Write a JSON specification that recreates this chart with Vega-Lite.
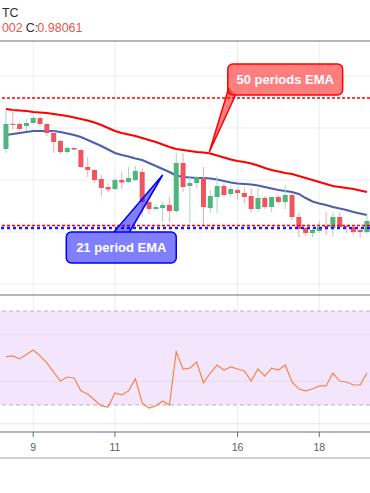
{
"$schema":"https://vega.github.io/schema/vega-lite/v6.json",
"width":370,"height":493,"padding":0,"autosize":{"type":"none"},
"config":{"view":{"stroke":null},"font":"Liberation Sans"},
"datasets":{
"candles":[
{"i":0,"o":0.9883,"h":0.9922,"l":0.9879,"c":0.9908},
{"i":1,"o":0.9908,"h":0.9922,"l":0.9902,"c":0.9907},
{"i":2,"o":0.9908,"h":0.9910,"l":0.9901,"c":0.9903},
{"i":3,"o":0.9906,"h":0.9913,"l":0.9901,"c":0.9909},
{"i":4,"o":0.9909,"h":0.9916,"l":0.9908,"c":0.9914},
{"i":5,"o":0.9914,"h":0.9916,"l":0.9905,"c":0.9908},
{"i":6,"o":0.9908,"h":0.9909,"l":0.9896,"c":0.9899},
{"i":7,"o":0.9899,"h":0.9901,"l":0.9879,"c":0.9890},
{"i":8,"o":0.9891,"h":0.9892,"l":0.9878,"c":0.9880},
{"i":9,"o":0.9880,"h":0.9886,"l":0.9878,"c":0.9884},
{"i":10,"o":0.9884,"h":0.9885,"l":0.9882,"c":0.98825},
{"i":11,"o":0.9882,"h":0.9883,"l":0.9864,"c":0.9865},
{"i":12,"o":0.9865,"h":0.9875,"l":0.9855,"c":0.9862},
{"i":13,"o":0.9862,"h":0.9863,"l":0.9849,"c":0.9852},
{"i":14,"o":0.9853,"h":0.9857,"l":0.9835,"c":0.9844},
{"i":15,"o":0.9845,"h":0.9849,"l":0.9840,"c":0.98425},
{"i":16,"o":0.9843,"h":0.9854,"l":0.9842,"c":0.9852},
{"i":17,"o":0.9852,"h":0.9860,"l":0.9843,"c":0.98495},
{"i":18,"o":0.9850,"h":0.9865,"l":0.9849,"c":0.9854},
{"i":19,"o":0.9852,"h":0.9866,"l":0.9851,"c":0.9861},
{"i":20,"o":0.9860,"h":0.9864,"l":0.9815,"c":0.9830},
{"i":21,"o":0.9830,"h":0.9833,"l":0.9818,"c":0.9823},
{"i":22,"o":0.9823,"h":0.9827,"l":0.9822,"c":0.9825},
{"i":23,"o":0.9824,"h":0.9830,"l":0.9810,"c":0.9827},
{"i":24,"o":0.9827,"h":0.9835,"l":0.9810,"c":0.9821},
{"i":25,"o":0.9821,"h":0.9879,"l":0.9819,"c":0.9869},
{"i":26,"o":0.9869,"h":0.9879,"l":0.9840,"c":0.9845},
{"i":27,"o":0.9846,"h":0.9855,"l":0.9809,"c":0.9849},
{"i":28,"o":0.9849,"h":0.9856,"l":0.9844,"c":0.9855},
{"i":29,"o":0.9854,"h":0.9865,"l":0.9807,"c":0.9825},
{"i":30,"o":0.9824,"h":0.9842,"l":0.9819,"c":0.9836},
{"i":31,"o":0.9835,"h":0.9856,"l":0.9819,"c":0.9846},
{"i":32,"o":0.9846,"h":0.9849,"l":0.9835,"c":0.9837},
{"i":33,"o":0.9838,"h":0.9846,"l":0.9835,"c":0.9843},
{"i":34,"o":0.9842,"h":0.9844,"l":0.9832,"c":0.9839},
{"i":35,"o":0.9839,"h":0.9845,"l":0.9829,"c":0.9835},
{"i":36,"o":0.9836,"h":0.9844,"l":0.9820,"c":0.9823},
{"i":37,"o":0.9823,"h":0.9844,"l":0.9820,"c":0.9834},
{"i":38,"o":0.9834,"h":0.9836,"l":0.9823,"c":0.9825},
{"i":39,"o":0.9825,"h":0.9835,"l":0.9820,"c":0.9835},
{"i":40,"o":0.9835,"h":0.9837,"l":0.9828,"c":0.9830},
{"i":41,"o":0.9830,"h":0.9847,"l":0.9823,"c":0.9837},
{"i":42,"o":0.9837,"h":0.9839,"l":0.9812,"c":0.9815},
{"i":43,"o":0.9815,"h":0.9819,"l":0.9795,"c":0.9803},
{"i":44,"o":0.9804,"h":0.9806,"l":0.9796,"c":0.9799},
{"i":45,"o":0.9799,"h":0.9804,"l":0.9795,"c":0.9802},
{"i":46,"o":0.9801,"h":0.9811,"l":0.9799,"c":0.9805},
{"i":47,"o":0.9806,"h":0.9820,"l":0.9797,"c":0.9805},
{"i":48,"o":0.9804,"h":0.9820,"l":0.9795,"c":0.9815},
{"i":49,"o":0.9815,"h":0.9820,"l":0.9804,"c":0.9805},
{"i":50,"o":0.9806,"h":0.9807,"l":0.9799,"c":0.9805},
{"i":51,"o":0.9805,"h":0.9807,"l":0.9797,"c":0.9800},
{"i":52,"o":0.9802,"h":0.9804,"l":0.9794,"c":0.9800},
{"i":53,"o":0.9800,"h":0.9817,"l":0.9798,"c":0.9811}
],
"ema":[
{"i":0,"e50":0.9923,"e21":0.9897},{"i":1,"e50":0.9922,"e21":0.9898},{"i":2,"e50":0.99215,"e21":0.9899},
{"i":3,"e50":0.9921,"e21":0.9900},{"i":4,"e50":0.9920,"e21":0.9901},{"i":5,"e50":0.99195,"e21":0.9901},
{"i":6,"e50":0.9919,"e21":0.9901},{"i":7,"e50":0.9918,"e21":0.9901},{"i":8,"e50":0.9917,"e21":0.9900},
{"i":9,"e50":0.9916,"e21":0.98985},{"i":10,"e50":0.99145,"e21":0.9897},{"i":11,"e50":0.9913,"e21":0.9895},
{"i":12,"e50":0.99115,"e21":0.9892},{"i":13,"e50":0.99095,"e21":0.9889},{"i":14,"e50":0.9907,"e21":0.9886},
{"i":15,"e50":0.9904,"e21":0.98825},{"i":16,"e50":0.9901,"e21":0.9879},{"i":17,"e50":0.9899,"e21":0.9877},
{"i":18,"e50":0.98975,"e21":0.98755},{"i":19,"e50":0.9896,"e21":0.98735},{"i":20,"e50":0.9894,"e21":0.9872},
{"i":21,"e50":0.9892,"e21":0.9869},{"i":22,"e50":0.9890,"e21":0.9866},{"i":23,"e50":0.98875,"e21":0.9863},
{"i":24,"e50":0.9885,"e21":0.9860},{"i":25,"e50":0.9883,"e21":0.98565},{"i":26,"e50":0.9882,"e21":0.9855},
{"i":27,"e50":0.9881,"e21":0.98545},{"i":28,"e50":0.9880,"e21":0.9854},{"i":29,"e50":0.98795,"e21":0.9854},
{"i":30,"e50":0.98785,"e21":0.98535},{"i":31,"e50":0.98765,"e21":0.98525},{"i":32,"e50":0.98745,"e21":0.9851},
{"i":33,"e50":0.98725,"e21":0.98495},{"i":34,"e50":0.9871,"e21":0.98485},{"i":35,"e50":0.9870,"e21":0.9848},
{"i":36,"e50":0.98685,"e21":0.98475},{"i":37,"e50":0.98665,"e21":0.98465},{"i":38,"e50":0.9864,"e21":0.9845},
{"i":39,"e50":0.9862,"e21":0.98435},{"i":40,"e50":0.98605,"e21":0.9842},{"i":41,"e50":0.9859,"e21":0.9841},
{"i":42,"e50":0.9858,"e21":0.9840},{"i":43,"e50":0.9856,"e21":0.9838},{"i":44,"e50":0.9854,"e21":0.9834},
{"i":45,"e50":0.9852,"e21":0.98305},{"i":46,"e50":0.9850,"e21":0.98285},{"i":47,"e50":0.9848,"e21":0.9827},
{"i":48,"e50":0.9846,"e21":0.9825},{"i":49,"e50":0.9845,"e21":0.98235},{"i":50,"e50":0.9844,"e21":0.9822},
{"i":51,"e50":0.9843,"e21":0.9820},{"i":52,"e50":0.98415,"e21":0.98185},{"i":53,"e50":0.9840,"e21":0.9817}
],
"rsi":[
{"i":0,"v":50.6},{"i":1,"v":50.9},{"i":2,"v":49.6},{"i":3,"v":51.5},{"i":4,"v":53.4},{"i":5,"v":50.9},
{"i":6,"v":47.9},{"i":7,"v":44.0},{"i":8,"v":40.2},{"i":9,"v":41.9},{"i":10,"v":41.5},{"i":11,"v":36.0},
{"i":12,"v":34.7},{"i":13,"v":32.1},{"i":14,"v":29.6},{"i":15,"v":29.1},{"i":16,"v":35.1},{"i":17,"v":34.3},
{"i":18,"v":36.0},{"i":19,"v":41.1},{"i":20,"v":30.9},{"i":21,"v":28.7},{"i":22,"v":29.6},{"i":23,"v":31.7},
{"i":24,"v":30.0},{"i":25,"v":52.6},{"i":26,"v":45.3},{"i":27,"v":45.7},{"i":28,"v":48.3},{"i":29,"v":39.4},
{"i":30,"v":43.6},{"i":31,"v":47.0},{"i":32,"v":44.9},{"i":33,"v":46.2},{"i":34,"v":45.3},{"i":35,"v":44.5},
{"i":36,"v":40.2},{"i":37,"v":45.3},{"i":38,"v":42.3},{"i":39,"v":45.7},{"i":40,"v":44.9},{"i":41,"v":47.0},
{"i":42,"v":39.8},{"i":43,"v":36.8},{"i":44,"v":36.0},{"i":45,"v":36.8},{"i":46,"v":38.1},{"i":47,"v":38.1},
{"i":48,"v":43.6},{"i":49,"v":40.2},{"i":50,"v":39.8},{"i":51,"v":38.5},{"i":52,"v":38.5},{"i":53,"v":43.6}
],
"pgrid":[{"p":0.9956},{"p":0.9904},{"p":0.9852},{"p":0.9800},{"p":0.9748}],
"rgrid":[{"v":60},{"v":40},{"v":22}],
"days":[{"i":4,"label":"9"},{"i":16,"label":"11"},{"i":34,"label":"16"},{"i":46,"label":"18"}],
"levels":[{"p":0.9934,"s":"r"},{"p":0.98065,"s":"r"},{"p":0.9804,"s":"b"}],
"header":[
{"i":-0.6,"p":1.0015,"t":"TC","s":"k"},
{"i":-0.6,"p":1.0000,"t":"002","s":"r"},
{"i":2.9,"p":1.0000,"t":"C:","s":"k"},
{"i":4.6,"p":1.0000,"t":"0.98061","s":"r"}
],
"boxes":[
{"x1":32.57,"x2":49.43,"y1":0.9968,"y2":0.9937,"tx":41.0,"ty":0.99525,"label":"50 periods EMA","s":"r"},
{"x1":8.857,"x2":25.0,"y1":0.9800,"y2":0.9769,"tx":16.93,"ty":0.97845,"label":"21 period EMA","s":"b"}
],
"tails":[
{"s":"r","k":0,"i":32.71,"p":0.9944},{"s":"r","k":1,"i":29.857,"p":0.9880},{"s":"r","k":2,"i":33.71,"p":0.9937},
{"s":"b","k":0,"i":15.857,"p":0.9800},{"s":"b","k":1,"i":23.0,"p":0.9857},{"s":"b","k":2,"i":18.143,"p":0.9800}
]
},
"resolve":{"scale":{"y":"independent"}},
"layer":[
{
"layer":[
{"data":{"name":"pgrid"},"mark":{"type":"rule","color":"#e8eef4","strokeWidth":1},
 "encoding":{"y":{"field":"p","type":"quantitative","scale":{"domain":[0.9539,1.0032],"nice":false,"zero":false},"axis":null}}},
{"data":{"name":"days"},"mark":{"type":"rule","color":"#e8eef4","strokeWidth":1},
 "encoding":{"x":{"field":"i","type":"quantitative","scale":{"domain":[-0.142857,52.714286],"nice":false,"zero":false},"axis":null},
  "y":{"datum":0.9991,"type":"quantitative","scale":{"domain":[0.9539,1.0032],"nice":false,"zero":false},"axis":null},"y2":{"datum":0.9600}}},
{"data":{"name":"ema"},"mark":{"type":"line","color":"#ff0000","strokeWidth":2},
 "encoding":{"x":{"field":"i","type":"quantitative","scale":{"domain":[-0.142857,52.714286],"nice":false,"zero":false},"axis":null},
  "y":{"field":"e50","type":"quantitative","scale":{"domain":[0.9539,1.0032],"nice":false,"zero":false},"axis":null}}},
{"data":{"name":"ema"},"mark":{"type":"line","color":"#4c5eac","strokeWidth":2},
 "encoding":{"x":{"field":"i","type":"quantitative","scale":{"domain":[-0.142857,52.714286],"nice":false,"zero":false},"axis":null},
  "y":{"field":"e21","type":"quantitative","scale":{"domain":[0.9539,1.0032],"nice":false,"zero":false},"axis":null}}},
{"data":{"name":"candles"},"mark":{"type":"rule","strokeWidth":1},
 "encoding":{"x":{"field":"i","type":"quantitative","scale":{"domain":[-0.142857,52.714286],"nice":false,"zero":false},"axis":null},
  "y":{"field":"l","type":"quantitative","scale":{"domain":[0.9539,1.0032],"nice":false,"zero":false},"axis":null},"y2":{"field":"h"},
  "color":{"condition":{"test":"datum.c >= datum.o","value":"#a6d6c4"},"value":"#f6aab1"}}},
{"data":{"name":"candles"},"mark":{"type":"bar","size":5},
 "encoding":{"x":{"field":"i","type":"quantitative","scale":{"domain":[-0.142857,52.714286],"nice":false,"zero":false},"axis":null},
  "y":{"field":"o","type":"quantitative","scale":{"domain":[0.9539,1.0032],"nice":false,"zero":false},"axis":null},"y2":{"field":"c"},
  "color":{"condition":{"test":"datum.c >= datum.o","value":"#4db67f"},"value":"#ef5461"}}},
{"data":{"name":"levels"},"transform":[{"filter":"datum.s == 'r'"}],"mark":{"type":"rule","color":"#ff0000","strokeWidth":1.5,"strokeDash":[3,2]},
 "encoding":{"y":{"field":"p","type":"quantitative","scale":{"domain":[0.9539,1.0032],"nice":false,"zero":false},"axis":null}}},
{"data":{"name":"levels"},"transform":[{"filter":"datum.s == 'b'"}],"mark":{"type":"rule","color":"#1a1aff","strokeWidth":2.5,"strokeDash":[3,3]},
 "encoding":{"y":{"field":"p","type":"quantitative","scale":{"domain":[0.9539,1.0032],"nice":false,"zero":false},"axis":null}}},
{"data":{"name":"tails"},"transform":[{"filter":"datum.s == 'r'"}],"mark":{"type":"line","stroke":"#ff0000","fill":"#ff0000","fillOpacity":0.5,"strokeWidth":1.5},
 "encoding":{"x":{"field":"i","type":"quantitative","scale":{"domain":[-0.142857,52.714286],"nice":false,"zero":false},"axis":null},
  "y":{"field":"p","type":"quantitative","scale":{"domain":[0.9539,1.0032],"nice":false,"zero":false},"axis":null},"order":{"field":"k"}}},
{"data":{"name":"tails"},"transform":[{"filter":"datum.s == 'b'"}],"mark":{"type":"line","stroke":"#0000ff","fill":"#0000ff","fillOpacity":0.5,"strokeWidth":1.5},
 "encoding":{"x":{"field":"i","type":"quantitative","scale":{"domain":[-0.142857,52.714286],"nice":false,"zero":false},"axis":null},
  "y":{"field":"p","type":"quantitative","scale":{"domain":[0.9539,1.0032],"nice":false,"zero":false},"axis":null},"order":{"field":"k"}}},
{"data":{"name":"boxes"},"mark":{"type":"rect","cornerRadius":5,"strokeWidth":1.5,"fillOpacity":0.5},
 "encoding":{"x":{"field":"x1","type":"quantitative","scale":{"domain":[-0.142857,52.714286],"nice":false,"zero":false},"axis":null},"x2":{"field":"x2"},
  "y":{"field":"y1","type":"quantitative","scale":{"domain":[0.9539,1.0032],"nice":false,"zero":false},"axis":null},"y2":{"field":"y2"},
  "fill":{"condition":{"test":"datum.s == 'r'","value":"#ff0000"},"value":"#0000ff"},
  "stroke":{"condition":{"test":"datum.s == 'r'","value":"#ff0000"},"value":"#0000ff"}}},
{"data":{"name":"boxes"},"mark":{"type":"text","color":"#ffffff","fontSize":13,"fontWeight":"bold","align":"center","baseline":"middle"},
 "encoding":{"x":{"field":"tx","type":"quantitative","scale":{"domain":[-0.142857,52.714286],"nice":false,"zero":false},"axis":null},
  "y":{"field":"ty","type":"quantitative","scale":{"domain":[0.9539,1.0032],"nice":false,"zero":false},"axis":null},"text":{"field":"label"}}},
{"data":{"values":[{"p":0.9991,"c":"a"},{"p":0.9737,"c":"a"},{"p":0.9600,"c":"a"}]},"mark":{"type":"rule","color":"#6a6d78","strokeWidth":1},
 "encoding":{"y":{"field":"p","type":"quantitative","scale":{"domain":[0.9539,1.0032],"nice":false,"zero":false},"axis":null}}},
{"data":{"values":[{"p":0.9574}]},"mark":{"type":"rule","color":"#a0a3ab","strokeWidth":1},
 "encoding":{"y":{"field":"p","type":"quantitative","scale":{"domain":[0.9539,1.0032],"nice":false,"zero":false},"axis":null}}},
{"data":{"name":"days"},"mark":{"type":"rule","color":"#6a6d78","strokeWidth":1},
 "encoding":{"x":{"field":"i","type":"quantitative","scale":{"domain":[-0.142857,52.714286],"nice":false,"zero":false},"axis":null},
  "y":{"datum":0.9600,"type":"quantitative","scale":{"domain":[0.9539,1.0032],"nice":false,"zero":false},"axis":null},"y2":{"datum":0.9595}}},
{"data":{"name":"days"},"mark":{"type":"text","color":"#5d606b","fontSize":10.5,"align":"center","baseline":"alphabetic"},
 "encoding":{"x":{"field":"i","type":"quantitative","scale":{"domain":[-0.142857,52.714286],"nice":false,"zero":false},"axis":null},
  "y":{"datum":0.95815,"type":"quantitative","scale":{"domain":[0.9539,1.0032],"nice":false,"zero":false},"axis":null},"text":{"field":"label"}}},
{"data":{"name":"header"},"mark":{"type":"text","fontSize":12.5,"align":"left","baseline":"alphabetic"},
 "encoding":{"x":{"field":"i","type":"quantitative","scale":{"domain":[-0.142857,52.714286],"nice":false,"zero":false},"axis":null},
  "y":{"field":"p","type":"quantitative","scale":{"domain":[0.9539,1.0032],"nice":false,"zero":false},"axis":null},"text":{"field":"t"},
  "color":{"condition":{"test":"datum.s == 'r'","value":"#ef5350"},"value":"#2a2e39"}}}
]
},
{
"layer":[
{"data":{"values":[{"a":1}]},"mark":{"type":"rect","color":"#f3e6fc"},
 "encoding":{"y":{"datum":70,"type":"quantitative","scale":{"domain":[-7.45,202.34],"nice":false,"zero":false},"axis":null},"y2":{"datum":30}}},
{"data":{"name":"rgrid"},"mark":{"type":"rule","color":"#e4e0f0","strokeWidth":1},
 "encoding":{"y":{"field":"v","type":"quantitative","scale":{"domain":[-7.45,202.34],"nice":false,"zero":false},"axis":null}}},
{"data":{"values":[{"v":70},{"v":30}]},"mark":{"type":"rule","color":"#b4b4be","strokeWidth":1,"strokeDash":[4,3]},
 "encoding":{"y":{"field":"v","type":"quantitative","scale":{"domain":[-7.45,202.34],"nice":false,"zero":false},"axis":null}}},
{"data":{"name":"rsi"},"mark":{"type":"line","color":"#f5854a","strokeWidth":1.2},
 "encoding":{"x":{"field":"i","type":"quantitative","scale":{"domain":[-0.142857,52.714286],"nice":false,"zero":false},"axis":null},
  "y":{"field":"v","type":"quantitative","scale":{"domain":[-7.45,202.34],"nice":false,"zero":false},"axis":null}}}
]
}
]
}
